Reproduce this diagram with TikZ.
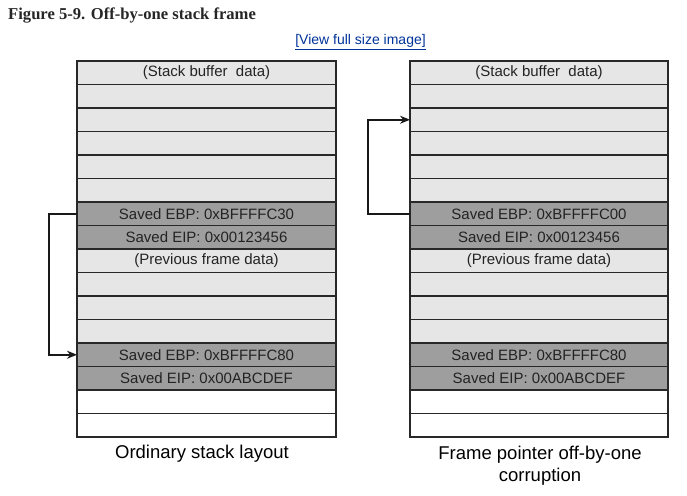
\documentclass[tikz,border=0pt]{standalone}
\usepackage{fontspec}
\setmainfont{Liberation Sans}
\newfontfamily\titlefont{Liberation Serif}
\usetikzlibrary{arrows.meta}
\definecolor{lightrow}{RGB}{230,230,230}
\definecolor{darkrow}{RGB}{158,158,158}
\definecolor{edgecol}{RGB}{40,40,40}
\definecolor{txtcol}{RGB}{35,35,35}
\definecolor{linkblue}{RGB}{0,51,153}
\tikzset{
  cell/.style={draw=edgecol, line width=1.8pt, minimum height=23.5pt, inner sep=0pt, outer sep=0pt,
    text=txtcol, font=\fontsize{15}{15}\selectfont, anchor=center},
  lt/.style={cell, fill=lightrow},
  dk/.style={cell, fill=darkrow},
  wh/.style={cell, fill=white},
  ptr/.style={draw=black!90, line width=1.7pt, -{Stealth[length=10pt,width=8pt]}},
  caption/.style={text=black, font=\fontsize{18.5}{22}\selectfont, anchor=base, align=center},
}
\begin{document}
\begin{tikzpicture}[x=1pt,y=-1pt]
\useasboundingbox[fill=white] (0,0) rectangle (687,495);
\node[anchor=base west, inner sep=0pt, font=\titlefont\bfseries\fontsize{16.6}{18}\selectfont, text=black!85] (title) at (8,20) {Figure 5-9. Off-by-one stack frame};
\node[anchor=base, inner sep=0pt, font=\fontsize{14}{14}\selectfont, text=linkblue] (link) at (360.5,45) {\underline{[View full size image]}};
% left stack
\foreach \i/\s/\t in {0/lt/{(Stack buffer\ \ data)},1/lt/{},2/lt/{},3/lt/{},4/lt/{},5/lt/{},
  6/dk/{Saved EBP: 0xBFFFFC30},7/dk/{Saved EIP: 0x00123456},8/lt/{(Previous frame data)},
  9/lt/{},10/lt/{},11/lt/{},12/dk/{Saved EBP: 0xBFFFFC80},13/dk/{Saved EIP: 0x00ABCDEF},14/wh/{},15/wh/{}}
  \node[\s, minimum width=259pt] (L\i) at (206.5,72.75+23.5*\i) {\t};
% right stack
\foreach \i/\s/\t in {0/lt/{(Stack buffer\ \ data)},1/lt/{},2/lt/{},3/lt/{},4/lt/{},5/lt/{},
  6/dk/{Saved EBP: 0xBFFFFC00},7/dk/{Saved EIP: 0x00123456},8/lt/{(Previous frame data)},
  9/lt/{},10/lt/{},11/lt/{},12/dk/{Saved EBP: 0xBFFFFC80},13/dk/{Saved EIP: 0x00ABCDEF},14/wh/{},15/wh/{}}
  \node[\s, minimum width=258pt] (R\i) at (539,72.75+23.5*\i) {\t};
% pointers
\draw[ptr] (L6.west) -- ++(-28,0) |- (L12.west);
\draw[ptr] (R6.west) -- ++(-42,0) |- (R2.west);
% captions
\node[caption] (capL) at (202,458) {Ordinary stack layout};
\node[caption, anchor=north] (capR) at (540,443) {Frame pointer off-by-one\\corruption};
\end{tikzpicture}
\end{document}
